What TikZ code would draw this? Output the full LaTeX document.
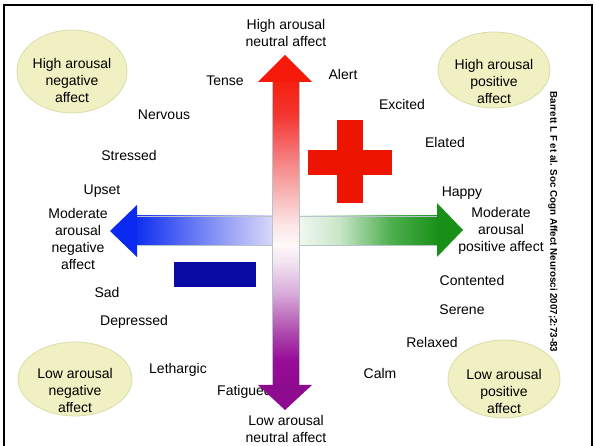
\documentclass[tikz,border=0pt]{standalone}
\usepackage{fontspec}
\setmainfont{Liberation Sans}
\usetikzlibrary{shapes.geometric}
\definecolor{ellfill}{HTML}{F0F0C2}
\definecolor{elldraw}{HTML}{D9DDA8}
\definecolor{plusred}{HTML}{EE1500}
\definecolor{minusblue}{HTML}{0A0AA5}
\definecolor{headred}{HTML}{F51A0A}
\definecolor{headpurple}{HTML}{8E0A8E}
\definecolor{headblue}{HTML}{0A2AF2}
\definecolor{headgreen}{HTML}{189018}
\definecolor{vA}{HTML}{F52010}
\definecolor{vB}{HTML}{F43530}
\definecolor{vC}{HTML}{F67070}
\definecolor{vD}{HTML}{F8B0B0}
\definecolor{vE}{HTML}{FBE5E5}
\definecolor{vF}{HTML}{FFF8F8}
\definecolor{vG}{HTML}{F0E0F0}
\definecolor{vH}{HTML}{D8A8D8}
\definecolor{vI}{HTML}{B050B0}
\definecolor{vJ}{HTML}{980C98}
\definecolor{vK}{HTML}{900A90}
\definecolor{bA}{HTML}{1030F0}
\definecolor{bB}{HTML}{7080F5}
\definecolor{bC}{HTML}{D8D8F8}
\definecolor{gA}{HTML}{F0F8F0}
\definecolor{gB}{HTML}{C8E6C8}
\definecolor{gC}{HTML}{50B050}
\definecolor{gD}{HTML}{1A901A}
\definecolor{shaftline}{HTML}{B8C4CC}
\begin{document}
\begin{tikzpicture}[x=1pt,y=-1pt,
  lbl/.style={font=\fontsize{14}{17}\selectfont, align=center, inner sep=0pt},
  blob/.style={ellipse, fill=ellfill, draw=elldraw, line width=0.8pt, inner sep=0pt},
  cite/.style={font=\bfseries\fontsize{9.8}{11}\selectfont, inner sep=0pt, rotate=-90}]
\useasboundingbox (0,0) rectangle (595,446);
\fill[white] (0,0) rectangle (595,446);
% frame
\draw[line width=2.2pt] (4,446) -- (4,5) -- (592,5) -- (592,446);

% ellipses
\node[blob, minimum width=110pt, minimum height=83pt] (hna) at (72,71.5) {};
\node[blob, minimum width=112pt, minimum height=76pt] (hpa) at (494,70) {};
\node[blob, minimum width=114pt, minimum height=74pt] (lna) at (75,379) {};
\node[blob, minimum width=112pt, minimum height=78pt] (lpa) at (504,379) {};
\node[lbl] (thna) at (72,80) {High arousal\\negative\\affect};
\node[lbl] (thpa) at (494,81) {High arousal\\positive\\affect};
\node[lbl] (tlna) at (75,390) {Low arousal\\negative\\affect};
\node[lbl] (tlpa) at (504,391) {Low arousal\\positive\\affect};

% words
\node[lbl] (tense) at (225,81) {Tense};
\node[lbl] (nervous) at (164,115) {Nervous};
\node[lbl] (stressed) at (129,155) {Stressed};
\node[lbl] (upset) at (102,191) {Upset};
\node[lbl] (sad) at (107,292) {Sad};
\node[lbl] (depressed) at (134,322) {Depressed};
\node[lbl] (lethargic) at (178,370) {Lethargic};
\node[lbl, anchor=west] (fatigued) at (217,392) {Fatigued};
\node[lbl] (alert) at (343,74) {Alert};
\node[lbl] (excited) at (402,104) {Excited};
\node[lbl] (elated) at (445,142) {Elated};
\node[lbl] (happy) at (462,193) {Happy};
\node[lbl] (contented) at (472,280) {Contented};
\node[lbl] (serene) at (462,310) {Serene};
\node[lbl] (relaxed) at (432,342) {Relaxed};
\node[lbl] (calm) at (380,373) {Calm};
\node[lbl] (modneg) at (78,239) {Moderate\\arousal\\negative\\affect};
\node[lbl] (modpos) at (501,231) {Moderate\\arousal\\positive affect};
\node[lbl] (highn) at (286,33) {High arousal\\neutral affect};
\node[lbl] (lown) at (286,429) {Low arousal\\neutral affect};

% plus and minus
\fill[plusred] (337,120) rectangle (363,203);
\fill[plusred] (308,150) rectangle (392,175);
\fill[minusblue] (174,262) rectangle (256,287);

% horizontal arrow (left: blue)
\shade[left color=bA, right color=bB] (137,216) rectangle (200,245);
\shade[left color=bB, right color=bC] (199.5,216) rectangle (272,245);
\fill[headblue] (137,205) -- (110,231) -- (137,257) -- cycle;
% horizontal arrow (right: green)
\shade[left color=gA, right color=gB] (299,216) rectangle (340,245);
\shade[left color=gB, right color=gC] (339.5,216) rectangle (390,245);
\shade[left color=gC, right color=gD] (389.5,216) rectangle (437.5,245);
\fill[headgreen] (437,203) -- (463,230) -- (437,257) -- cycle;
\draw[shaftline, line width=0.6pt] (137,216) -- (437,216) (137,245) -- (437,245);

% vertical arrow
\shade[top color=vA, bottom color=vB] (272,81.5) rectangle (299,115);
\shade[top color=vB, bottom color=vC] (272,114.5) rectangle (299,150);
\shade[top color=vC, bottom color=vD] (272,149.5) rectangle (299,190);
\shade[top color=vD, bottom color=vE] (272,189.5) rectangle (299,225);
\shade[top color=vE, bottom color=vF] (272,224.5) rectangle (299,245);
\shade[top color=vF, bottom color=vG] (272,244.5) rectangle (299,265);
\shade[top color=vG, bottom color=vH] (272,264.5) rectangle (299,295);
\shade[top color=vH, bottom color=vI] (272,294.5) rectangle (299,330);
\shade[top color=vI, bottom color=vJ] (272,329.5) rectangle (299,360);
\shade[top color=vJ, bottom color=vK] (272,359.5) rectangle (299,385.5);
\draw[shaftline, line width=0.6pt] (272,82) -- (272,385) (299,82) -- (299,385);
\fill[headred] (258,82) -- (285,55) -- (312,82) -- cycle;
\fill[headpurple] (258,385) -- (285,410) -- (312,385) -- cycle;

% citation
\node[cite] (ref) at (553,222) {Barrett L F et al. Soc Cogn Affect Neurosci 2007;2:73-83};
\end{tikzpicture}
\end{document}
